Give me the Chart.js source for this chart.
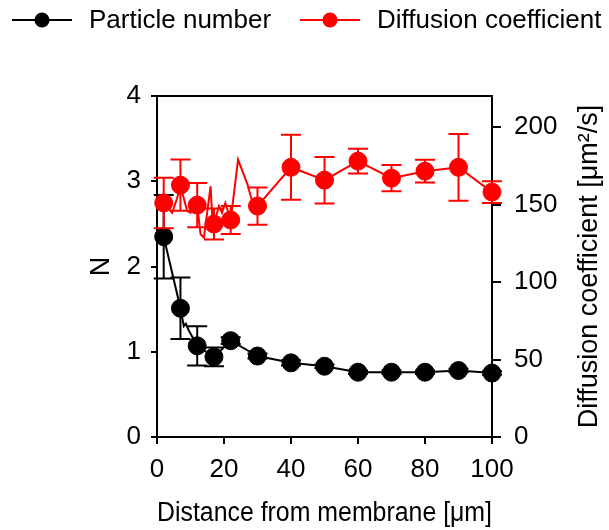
<!DOCTYPE html>
<html>
<head>
<meta charset="utf-8">
<script src="https://cdn.jsdelivr.net/npm/chart.js@4.4.0/dist/chart.umd.min.js"></script>
<style>
  html, body { margin: 0; padding: 0; background: #fff; }
  #wrap { position: relative; width: 609px; height: 530px; }
</style>
</head>
<body>
<div id="wrap"><canvas id="chart" width="609" height="530"></canvas></div>
<script>
// measured points (distance in um)
var distance = [2, 7, 12, 17, 22, 30, 40, 50, 60, 70, 80, 90, 100];
var particleNumber = [2.35, 1.51, 1.07, 0.94, 1.13, 0.95, 0.87, 0.83, 0.76, 0.76, 0.76, 0.78, 0.75];
var particleErr = [0.49, 0.36, 0.23, 0.11, 0.04, 0.03, 0.03, 0.02, 0.02, 0.02, 0.02, 0.02, 0.02];
var diffusion = [151, 162.5, 149.6, 137.4, 140, 149, 174, 165.7, 178, 167, 171.5, 174, 158];
var diffusionErr = [16.3, 16.5, 14.2, 10, 9, 12, 21, 15, 8, 8.5, 7.3, 21.5, 7];

// raw traces connecting the points
var particleTraceX = [2, 7, 8, 8.6, 9.5, 12, 17, 22, 30, 40, 50, 60, 70, 80, 90, 100];
var particleTraceY = [2.35, 1.51, 1.30, 1.33, 1.25, 1.07, 0.94, 1.13, 0.95, 0.87, 0.83, 0.76, 0.76, 0.76, 0.78, 0.75];
var diffusionTraceX = [2, 4.5, 6, 7, 8, 9, 10, 12, 13, 14, 16, 16.5, 17, 18.5, 19.4, 20.4, 22, 24.2, 27, 28.4, 30, 40, 50, 60, 70, 80, 90, 100];
var diffusionTraceY = [151, 144.7, 154, 162.5, 154, 145.8, 144.7, 149.6, 130.8, 128.6, 161.8, 141.5, 137.4, 149, 144.7, 151, 140, 179, 163, 152, 149, 174, 165.7, 178, 167, 171.5, 174, 158];

var xTicks = [0, 20, 40, 60, 80, 100];
var nTicks = [0, 1, 2, 3, 4];
var dTicks = [0, 50, 100, 150, 200];

var FONT = '"Liberation Sans", Arial, sans-serif';
var RED = '#ff0000';

function pts(xs, ys) {
  return xs.map(function (x, i) { return { x: x, y: ys[i] }; });
}
function fixTicks(list) {
  return function (scale) { scale.ticks = list.map(function (v) { return { value: v }; }); };
}

// error bars drawn right after each trace, below its points
var errorBars = {
  id: 'errorBars',
  afterDatasetDraw: function (chart, args) {
    var ds = chart.data.datasets[args.index];
    if (!ds.errBars) return;
    var eb = ds.errBars, ctx = chart.ctx;
    var xs = chart.scales.x, ys = chart.scales[ds.yAxisID];
    ctx.save();
    ctx.strokeStyle = ds.borderColor;
    ctx.lineWidth = 2;
    eb.x.forEach(function (xv, i) {
      var px = xs.getPixelForValue(xv);
      var top = ys.getPixelForValue(eb.y[i] + eb.e[i]);
      var bot = ys.getPixelForValue(eb.y[i] - eb.e[i]);
      ctx.beginPath();
      ctx.moveTo(px, top); ctx.lineTo(px, bot);
      ctx.moveTo(px - 10, top); ctx.lineTo(px + 10, top);
      ctx.moveTo(px - 10, bot); ctx.lineTo(px + 10, bot);
      ctx.stroke();
    });
    ctx.restore();
  }
};

// legend, top frame line, right axis title
var decor = {
  id: 'decor',
  afterDraw: function (chart) {
    var ctx = chart.ctx, a = chart.chartArea;
    ctx.save();
    ctx.strokeStyle = '#000';
    ctx.lineWidth = 2;
    ctx.beginPath();
    ctx.moveTo(a.left - 1, a.top); ctx.lineTo(a.right + 1, a.top);
    ctx.stroke();

    function item(x0, color, label) {
      ctx.strokeStyle = color; ctx.fillStyle = color; ctx.lineWidth = 2;
      ctx.beginPath(); ctx.moveTo(x0, 20); ctx.lineTo(x0 + 60, 20); ctx.stroke();
      ctx.beginPath(); ctx.arc(x0 + 30, 20, 7.5, 0, Math.PI * 2); ctx.fill();
      ctx.fillStyle = '#000';
      ctx.font = '26px ' + FONT;
      ctx.textAlign = 'left'; ctx.textBaseline = 'middle';
      ctx.fillText(label, x0 + 77, 21);
    }
    item(12, '#000', 'Particle number');
    item(300, RED, 'Diffusion coefficient');

    ctx.translate(590, (a.top + a.bottom) / 2);
    ctx.rotate(-Math.PI / 2);
    ctx.fillStyle = '#000';
    ctx.font = '27px ' + FONT;
    ctx.textAlign = 'center'; ctx.textBaseline = 'middle';
    ctx.fillText('Diffusion coefficient [\u03bcm\u00b2/s]', 0, 0);
    ctx.restore();
  }
};

var tickFont = { family: FONT, size: 26 };
var titleFont = { family: FONT, size: 27 };

new Chart(document.getElementById('chart').getContext('2d'), {
  type: 'scatter',
  data: {
    datasets: [
      { label: 'Diffusion coefficient', data: pts(distance, diffusion), yAxisID: 'y2', order: 0,
        showLine: false, pointRadius: 9, pointBackgroundColor: RED, pointBorderColor: RED, borderColor: RED, clip: false },
      { label: 'diffusion trace', data: pts(diffusionTraceX, diffusionTraceY), yAxisID: 'y2', order: 1,
        showLine: true, pointRadius: 0, borderColor: RED, borderWidth: 2, tension: 0, clip: false,
        errBars: { x: distance, y: diffusion, e: diffusionErr } },
      { label: 'Particle number', data: pts(distance, particleNumber), yAxisID: 'y', order: 2,
        showLine: false, pointRadius: 9, pointBackgroundColor: '#000', pointBorderColor: '#000', borderColor: '#000', clip: false },
      { label: 'particle trace', data: pts(particleTraceX, particleTraceY), yAxisID: 'y', order: 3,
        showLine: true, pointRadius: 0, borderColor: '#000', borderWidth: 2, tension: 0, clip: false,
        errBars: { x: distance, y: particleNumber, e: particleErr } }
    ]
  },
  options: {
    responsive: false,
    animation: false,
    layout: { padding: { top: 96, left: 0, right: 0, bottom: 0 } },
    plugins: { legend: { display: false }, tooltip: { enabled: false } },
    scales: {
      x: {
        type: 'linear', min: 0, max: 100,
        afterBuildTicks: fixTicks(xTicks),
        afterFit: function (s) { s.height = 93; },
        border: { color: '#000', width: 2 },
        grid: { drawOnChartArea: false, color: '#000', lineWidth: 2, tickLength: 7 },
        ticks: { color: '#000', font: tickFont, padding: 10, maxRotation: 0 },
        title: { display: true, text: 'Distance from membrane [\u03bcm]', color: '#000',
                 font: titleFont, padding: { top: 0, bottom: 0 } }
      },
      y: {
        type: 'linear', position: 'left', min: 0, max: 4,
        afterBuildTicks: fixTicks(nTicks),
        afterFit: function (s) { s.width = 157; },
        border: { color: '#000', width: 2 },
        grid: { drawOnChartArea: false, color: '#000', lineWidth: 2, tickLength: 6 },
        ticks: { color: '#000', font: tickFont, padding: 10 },
        title: { display: true, text: 'N', color: '#000',
                 font: titleFont, padding: { top: 85, bottom: 0 } }
      },
      y2: {
        type: 'linear', position: 'right', min: 0, max: 220,
        afterBuildTicks: fixTicks(dTicks),
        afterFit: function (s) { s.width = 117; },
        border: { color: '#000', width: 2 },
        grid: { drawOnChartArea: false, color: '#000', lineWidth: 2, tickLength: 9 },
        ticks: { color: '#000', font: tickFont, padding: 13 }
      }
    }
  },
  plugins: [errorBars, decor]
});
</script>
</body>
</html>
